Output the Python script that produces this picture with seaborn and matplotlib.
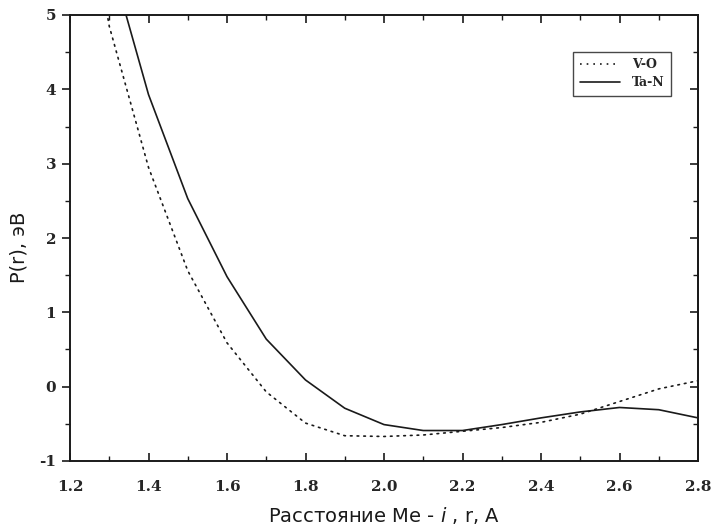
import numpy as np
import pandas as pd
import matplotlib
matplotlib.use("Agg")
import matplotlib.pyplot as plt
import seaborn as sns
from matplotlib.ticker import MultipleLocator
from matplotlib.lines import Line2D

# ---- data ----
r_vo = [1.2, 1.3, 1.4, 1.5, 1.6, 1.7, 1.8, 1.9, 2.0, 2.1, 2.2, 2.3, 2.4, 2.5, 2.6, 2.7, 2.8]
p_vo = [7.9, 4.85, 2.95, 1.56, 0.59, -0.07, -0.49, -0.66, -0.67, -0.65, -0.60, -0.55, -0.48, -0.37, -0.20, -0.03, 0.08]

r_tan = [1.3, 1.4, 1.5, 1.6, 1.7, 1.8, 1.9, 2.0, 2.1, 2.2, 2.3, 2.4, 2.5, 2.6, 2.7, 2.8]
p_tan = [5.8, 3.93, 2.53, 1.48, 0.64, 0.09, -0.29, -0.51, -0.59, -0.59, -0.51, -0.42, -0.34, -0.28, -0.31, -0.42]

series_names = ["V-O", "Ta-N"]
x_ticks = [1.2, 1.4, 1.6, 1.8, 2.0, 2.2, 2.4, 2.6, 2.8]
y_ticks = [-1, 0, 1, 2, 3, 4, 5]

df = pd.concat([
    pd.DataFrame({"r": r_vo, "P": p_vo, "series": series_names[0]}),
    pd.DataFrame({"r": r_tan, "P": p_tan, "series": series_names[1]}),
], ignore_index=True)

sns.set_style("white")
plt.rcParams["axes.unicode_minus"] = False
plt.rcParams["mathtext.fontset"] = "dejavusans"

fig = plt.figure(figsize=(7.14, 5.31), dpi=100)
ax = fig.add_axes([70 / 714, 1 - 461 / 531, 628 / 714, 446 / 531])

ink = "#1a1a1a"
sns.lineplot(data=df, x="r", y="P", style="series", style_order=series_names,
             dashes={"V-O": (1, 3), "Ta-N": ""}, color=ink, ax=ax,
             legend=False, sort=False, estimator=None)
for ln in ax.lines:
    ln.set_linewidth(1.2)
    ln.set_dash_capstyle("round")

ax.set_xlim(1.2, 2.8)
ax.set_ylim(-1, 5)

tick_font = {"family": "DejaVu Serif", "weight": "bold", "size": 11}
ax.xaxis.set_minor_locator(MultipleLocator(0.1))
ax.yaxis.set_minor_locator(MultipleLocator(0.5))
ax.set_xticks(x_ticks)
ax.set_xticklabels([f"{v:.1f}" for v in x_ticks], fontdict=tick_font)
ax.set_yticks(y_ticks)
ax.set_yticklabels([f"{v:d}" for v in y_ticks], fontdict=tick_font)

ax.tick_params(axis="x", which="both", direction="in", bottom=True, top=True, color=ink, pad=14)
ax.tick_params(axis="x", which="major", length=6, width=1.2)
ax.tick_params(axis="x", which="minor", length=3.5, width=1.0)
ax.tick_params(axis="y", which="both", direction="out", left=True, right=False, color=ink, pad=4)
ax.tick_params(axis="y", which="major", length=6, width=1.2)
ax.tick_params(axis="y", which="minor", length=3.5, width=1.0)

sec = ax.secondary_yaxis("right")
sec.yaxis.set_major_locator(MultipleLocator(1))
sec.yaxis.set_minor_locator(MultipleLocator(0.5))
sec.tick_params(axis="y", which="both", direction="in", color=ink, labelright=False)
sec.tick_params(axis="y", which="major", length=6, width=1.2)
sec.tick_params(axis="y", which="minor", length=3.5, width=1.0)
sec.spines["right"].set_linewidth(1.4)
sec.spines["right"].set_color(ink)

for s in ax.spines.values():
    s.set_visible(True)
    s.set_linewidth(1.4)
    s.set_color(ink)

ax.set_xlabel(r"Расстояние Me - $\mathit{i}$ , r, A", fontsize=14,
              family="DejaVu Sans", color=ink)
ax.xaxis.set_label_coords(0.499, -0.098)
ax.set_ylabel("P(r), эВ", fontsize=14, family="DejaVu Sans", color=ink)
ax.yaxis.set_label_coords(-0.066, 0.48)

handles = [Line2D([], [], color=ink, lw=1.2, linestyle=(0, (1, 3))),
           Line2D([], [], color=ink, lw=1.2, linestyle="-")]
leg = ax.legend(handles, series_names, loc="upper right",
                bbox_to_anchor=(1 - 27 / 628, 1 - 37 / 446),
                prop={"family": "DejaVu Serif", "weight": "bold", "size": 9},
                frameon=True, fancybox=False, borderaxespad=0, handlelength=3.2,
                handletextpad=1.0, borderpad=0.5, labelspacing=0.4)
leg.get_frame().set_edgecolor(ink)
leg.get_frame().set_linewidth(1.0)

fig.savefig("out.png", dpi=100, facecolor="white")
